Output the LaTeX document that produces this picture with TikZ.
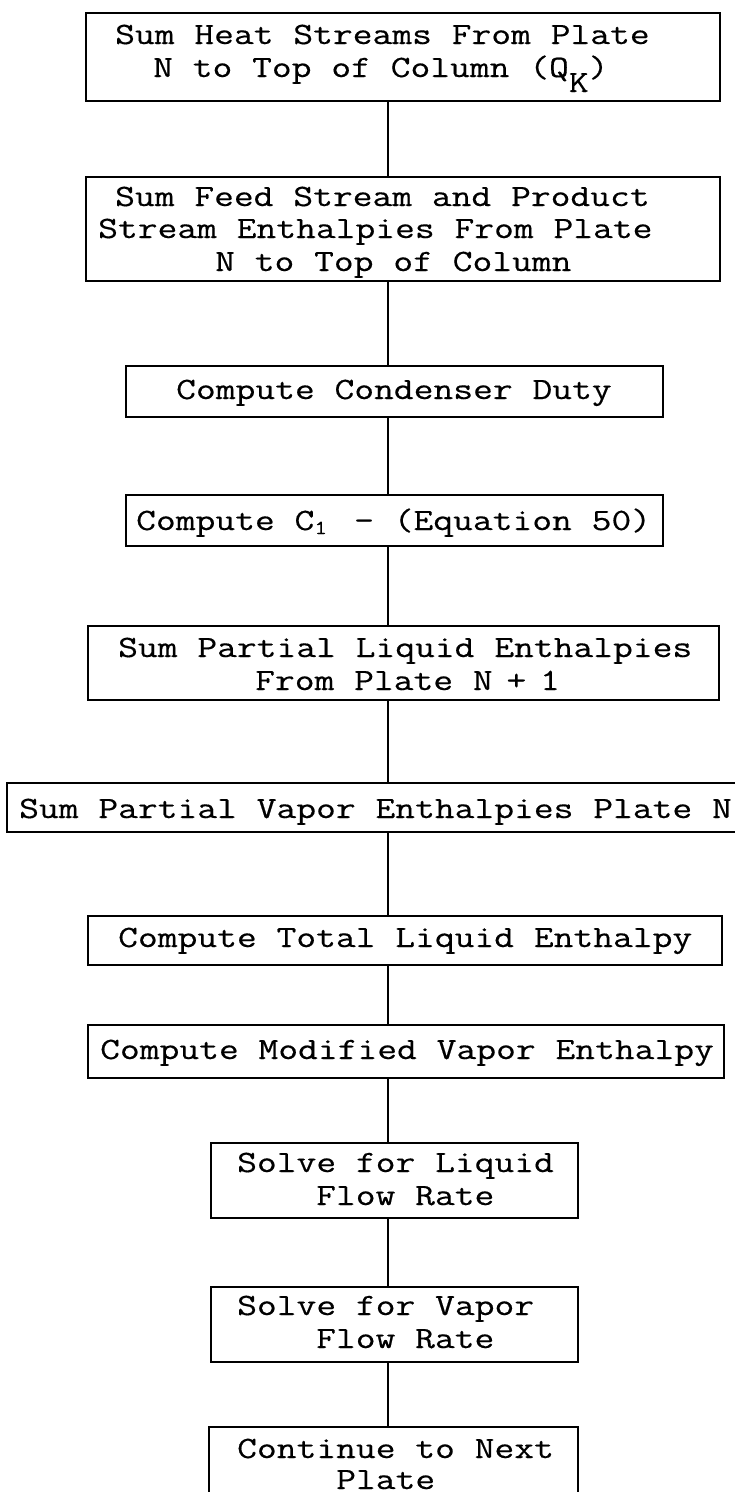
\documentclass[tikz,border=0pt]{standalone}
\usepackage{fontspec}
\newfontfamily\tw{Latin Modern Mono}[FakeStretch=1.24, FakeBold=0.4]
\tikzset{
  box/.style={draw=black, line width=1.8pt, inner sep=0pt},
  line/.style={draw=black, line width=1.3pt},
  txt/.style={anchor=base west, inner sep=0pt, font=\tw\fontsize{31pt}{33pt}\selectfont, text=black}
}
\begin{document}
\begin{tikzpicture}[x=1pt,y=-1pt]
\useasboundingbox (0,0) rectangle (735,1492);
\clip (0,0) rectangle (735,1492);
\coordinate (spine) at (388,0);
% boxes
\node[box, minimum width=634pt, minimum height=88pt]  (b1)  at (403,57)    {};
\node[box, minimum width=634pt, minimum height=104pt] (b2)  at (403,229)   {};
\node[box, minimum width=537pt, minimum height=51pt]  (b3)  at (394.5,391.5) {};
\node[box, minimum width=537pt, minimum height=51pt]  (b4)  at (394.5,520.5) {};
\node[box, minimum width=631pt, minimum height=74pt]  (b5)  at (403.5,663) {};
\node[box, minimum width=740pt, minimum height=49pt]  (b6)  at (377,807.5) {};
\node[box, minimum width=634pt, minimum height=49pt]  (b7)  at (405,940.5) {};
\node[box, minimum width=636pt, minimum height=53pt]  (b8)  at (406,1051.5) {};
\node[box, minimum width=367pt, minimum height=75pt]  (b9)  at (394.5,1180.5) {};
\node[box, minimum width=367pt, minimum height=75pt]  (b10) at (394.5,1324.5) {};
\node[box, minimum width=369pt, minimum height=80pt]  (b11) at (393.5,1467) {};
% texts
\node[txt] (t1a) at (115,44) {Sum Heat Streams From Plate};
\node[txt] (t1b) at (153,77) {N to Top of Column (Q\raisebox{-15pt}{K})};
\node[txt] (t2a) at (115,206) {Sum Feed Stream and Product};
\node[txt] (t2b) at (98,238) {Stream Enthalpies From Plate};
\node[txt] (t2c) at (215,271) {N to Top of Column};
\node[txt] (t3)  at (176,399) {Compute Condenser Duty};
\node[txt] (t4)  at (136,530) {Compute C\makebox[20pt][l]{\raisebox{-4pt}{\fontsize{20pt}{20pt}\selectfont 1}} - (Equation 50)};
\node[txt] (t5a) at (118,657) {Sum Partial Liquid Enthalpies};
\node[txt] (t5b) at (255,690) {From Plate N\hspace{-6pt} + \hspace{-6pt}1};
\node[txt] (t6)  at (19,818)  {Sum Partial Vapor Enthalpies Plate N};
\node[txt] (t7)  at (118,947) {Compute Total Liquid Enthalpy};
\node[txt] (t8)  at (100,1059) {Compute Modified Vapor Enthalpy};
\node[txt] (t9a) at (237,1172) {Solve for Liquid};
\node[txt] (t9b) at (316,1205) {Flow Rate};
\node[txt] (t10a) at (237,1315) {Solve for Vapor};
\node[txt] (t10b) at (316,1348) {Flow Rate};
\node[txt] (t11a) at (237,1458) {Continue to Next};
\node[txt] (t11b) at (336,1489) {Plate};
% connectors
\draw[line] (spine |- b1.south) -- (spine |- b2.north);
\draw[line] (spine |- b2.south) -- (spine |- b3.north);
\draw[line] (spine |- b3.south) -- (spine |- b4.north);
\draw[line] (spine |- b4.south) -- (spine |- b5.north);
\draw[line] (spine |- b5.south) -- (spine |- b6.north);
\draw[line] (spine |- b6.south) -- (spine |- b7.north);
\draw[line] (spine |- b7.south) -- (spine |- b8.north);
\draw[line] (spine |- b8.south) -- (spine |- b9.north);
\draw[line] (spine |- b9.south) -- (spine |- b10.north);
\draw[line] (spine |- b10.south) -- (spine |- b11.north);
\end{tikzpicture}
\end{document}
